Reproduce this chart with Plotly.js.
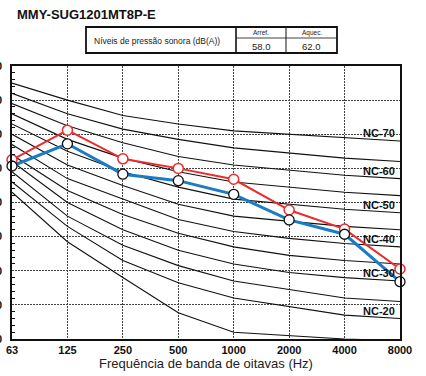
<!DOCTYPE html>
<html>
<head>
<meta charset="utf-8">
<script src="https://cdn.plot.ly/plotly-3.0.1.min.js"></script>
<style>
  html, body { margin: 0; padding: 0; background: #fff; }
  #chart { width: 426px; height: 376px; }
</style>
</head>
<body>
<div id="chart"></div>
<script>
// Octave band centre frequencies (Hz)
const freqLabels = ['63', '125', '250', '500', '1000', '2000', '4000', '8000'];

// Measured sound pressure levels per octave band (dB)
const coolingLevels = [60.7, 67.2, 58.3, 56.4, 52.4, 44.9, 40.7, 26.8];
const heatingLevels = [62.5, 71.2, 62.8, 60.0, 56.8, 47.8, 42.2, 30.5];

// Overall A-weighted levels shown in the header table
const modeNames = ['Arref.', 'Aquec.'];
const overallLevels = [58.0, 62.0];

// Noise criterion reference curves (dB per octave band)
const ncNames = ['NC-70', 'NC-65', 'NC-60', 'NC-55', 'NC-50', 'NC-45', 'NC-40', 'NC-35', 'NC-30', 'NC-25', 'NC-20', 'NC-15'];
const nc70 = [85, 80, 75.5, 73, 71, 70, 69, 68];
const nc65 = [82, 76, 71.5, 68.5, 66, 64.5, 63, 62];
const nc60 = [79, 72.5, 67.5, 63.5, 61, 59.5, 58, 57];
const nc55 = [76, 68.5, 63, 59, 56, 54.5, 53, 52];
const nc50 = [73, 65, 59, 54.5, 51, 49.5, 48, 47];
const nc45 = [70, 61, 55, 49.5, 46, 44.5, 43, 42];
const nc40 = [67, 57, 51, 45, 41.5, 39.5, 38, 37];
const nc35 = [64, 53.5, 46.5, 41, 37, 34.5, 33, 32];
const nc30 = [62, 50, 42, 36, 32, 29.5, 28, 27];
const nc25 = [59, 46, 37.5, 31.5, 27, 24.5, 22, 21];
const nc20 = [56, 43, 33, 26.5, 22, 19.5, 17, 16];
const nc15 = [53, 38.5, 28, 17.7, 12, 11, 10, 9.5];
const ncCurves = [nc70, nc65, nc60, nc55, nc50, nc45, nc40, nc35, nc30, nc25, nc20, nc15];
const ncLabelled = ['NC-70', 'NC-60', 'NC-50', 'NC-40', 'NC-30', 'NC-20'];

const modelName = 'MMY-SUG1201MT8P-E';
const tableCaption = 'Níveis de pressão sonora (dB(A))';

// Plot-area geometry in pixels, used to place the header table in paper units
const W = 426, H = 376;
const M = { l: 12, r: 26, t: 66, b: 37 };
const pw = W - M.l - M.r, ph = H - M.t - M.b;
const px = x => (x - M.l) / pw;
const py = y => (H - M.b - y) / ph;

const FONT = 'Liberation Sans, Arial, sans-serif';

const traces = [];
ncCurves.forEach((vals, i) => {
  traces.push({
    type: 'scatter', mode: 'lines', x: freqLabels, y: vals,
    name: ncNames[i], showlegend: false, hoverinfo: 'skip',
    line: { color: '#111', width: 1.1 }, cliponaxis: true
  });
});
traces.push({
  type: 'scatter', mode: 'lines+markers', x: freqLabels, y: heatingLevels,
  name: modeNames[1], showlegend: false,
  line: { color: '#ee2a2a', width: 2 },
  marker: { symbol: 'circle', size: 10, color: '#fff', line: { color: '#ee2a2a', width: 1.5 } },
  cliponaxis: false
});
traces.push({
  type: 'scatter', mode: 'lines+markers', x: freqLabels, y: coolingLevels,
  name: modeNames[0], showlegend: false,
  line: { color: '#1a7cc4', width: 3 },
  marker: { symbol: 'circle', size: 10, color: '#fff', line: { color: '#111', width: 1.3 } },
  cliponaxis: false
});

const annotations = [];
// NC curve labels at the right end of each labelled curve (category index of 8000 Hz)
const lastIdx = freqLabels.length - 1;
ncLabelled.forEach(name => {
  const vals = ncCurves[ncNames.indexOf(name)];
  annotations.push({
    x: lastIdx, y: vals[lastIdx],
    xref: 'x', yref: 'y', text: '<b>' + name + '</b>', showarrow: false,
    xanchor: 'right', yanchor: 'middle', xshift: -3, yshift: 8,
    font: { family: FONT, size: 11, color: '#111' }
  });
});
// Model name
annotations.push({
  x: px(15), y: py(14), xref: 'paper', yref: 'paper', text: '<b>' + modelName + '</b>',
  showarrow: false, xanchor: 'left', yanchor: 'middle',
  font: { family: FONT, size: 13, color: '#111' }
});
// Header table text
annotations.push({
  x: px(92), y: py(41), xref: 'paper', yref: 'paper', text: tableCaption,
  showarrow: false, xanchor: 'left', yanchor: 'middle',
  font: { family: FONT, size: 8.5, color: '#222' }
});
const colCentres = [261, 311.5];
modeNames.forEach((m, i) => {
  annotations.push({
    x: px(colCentres[i]), y: py(32.5), xref: 'paper', yref: 'paper', text: m,
    showarrow: false, xanchor: 'center', yanchor: 'middle',
    font: { family: FONT, size: 6.5, color: '#222' }
  });
  annotations.push({
    x: px(colCentres[i]), y: py(46), xref: 'paper', yref: 'paper', text: overallLevels[i].toFixed(1),
    showarrow: false, xanchor: 'center', yanchor: 'middle',
    font: { family: FONT, size: 9.5, color: '#222' }
  });
});

const shapes = [
  { type: 'rect', xref: 'paper', yref: 'paper', x0: px(86), x1: px(337), y0: py(27), y1: py(53),
    line: { color: '#111', width: 1.8 }, fillcolor: 'rgba(0,0,0,0)' },
  { type: 'line', xref: 'paper', yref: 'paper', x0: px(236), x1: px(236), y0: py(27), y1: py(53),
    line: { color: '#111', width: 1.6 } },
  { type: 'line', xref: 'paper', yref: 'paper', x0: px(286), x1: px(286), y0: py(27), y1: py(53),
    line: { color: '#111', width: 1 } },
  { type: 'line', xref: 'paper', yref: 'paper', x0: px(236), x1: px(337), y0: py(38), y1: py(38),
    line: { color: '#111', width: 0.8 } }
];

const layout = {
  width: W, height: H,
  margin: M,
  paper_bgcolor: '#fff', plot_bgcolor: '#fff',
  showlegend: false,
  font: { family: FONT, color: '#111' },
  xaxis: {
    type: 'category', categoryorder: 'array', categoryarray: freqLabels,
    range: [0, 7], fixedrange: true,
    showgrid: true, gridcolor: '#444', gridwidth: 1, griddash: '2px,1px',
    showline: true, mirror: true, linecolor: '#111', linewidth: 1.6,
    ticks: '', zeroline: false,
    tickfont: { family: FONT, size: 11, color: '#111', weight: 700 },
    title: { text: 'Frequência de banda de oitavas (Hz)', standoff: 2,
             font: { family: FONT, size: 13, color: '#222' } }
  },
  yaxis: {
    range: [10, 90], dtick: 10, fixedrange: true,
    showgrid: true, gridcolor: '#444', gridwidth: 1, griddash: '2px,1px',
    showline: true, mirror: true, linecolor: '#111', linewidth: 1.6,
    ticks: '', zeroline: false, automargin: false,
    ticklabelstandoff: 6,
    minor: { dtick: 2, ticks: 'inside', ticklen: 3, tickcolor: '#111', showgrid: false },
    tickfont: { family: FONT, size: 11, color: '#111', weight: 700 }
  },
  annotations: annotations,
  shapes: shapes
};

Plotly.newPlot('chart', traces, layout, { staticPlot: true, displayModeBar: false });
</script>
</body>
</html>
